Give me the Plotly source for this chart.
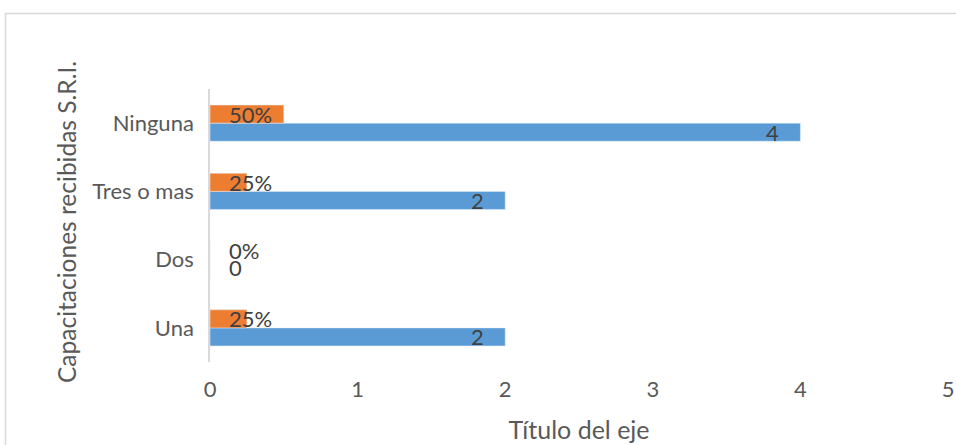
import plotly.graph_objects as go

categories = ["Una", "Dos", "Tres o mas", "Ninguna"]
counts = [2, 0, 2, 4]
shares = [0.25, 0.0, 0.25, 0.5]
share_labels = ["25%", "0%", "25%", "50%"]
x_ticks = [0, 1, 2, 3, 4, 5]

FONT = "Lato"
TXT = "#404040"
AX = "#595959"

L, R, T, B = 210, 8, 89, 83
W, H = 956, 445
pw = W - L - R
ph = H - T - B

fig = go.Figure()
fig.add_trace(go.Bar(
    y=categories, x=counts, orientation="h", marker_color="#5B9BD5",
    name="Frecuencia",
))
fig.add_trace(go.Bar(
    y=categories, x=shares, orientation="h", marker_color="#ED7D31",
    name="Porcentaje",
))

# count labels near the bar end (inside)
for c, v in zip(categories, counts):
    if v:
        fig.add_annotation(x=v, y=c, text=str(v), xref="x", yref="y", showarrow=False,
                           xanchor="right", xshift=-19, yshift=-9,
                           font=dict(family=FONT, size=22, color=TXT))
    else:
        fig.add_annotation(x=0, y=c, text="0", xref="x", yref="y", showarrow=False,
                           xanchor="left", xshift=17, yshift=-8,
                           font=dict(family=FONT, size=22, color=TXT))
# percentage labels
for c, s in zip(categories, share_labels):
    fig.add_annotation(x=0, y=c, text=s, xref="x", yref="y", showarrow=False,
                       xanchor="left", xshift=17, yshift=9,
                       font=dict(family=FONT, size=22, color=TXT))

# y-axis title
fig.add_annotation(text="Capacitaciones recibidas S.R.I.", xref="paper", yref="paper",
                   x=(66 - L) / pw, y=(H - B - 222) / ph, xanchor="center", yanchor="middle",
                   textangle=-90, showarrow=False, font=dict(family=FONT, size=24.5, color=AX))

fig.update_layout(
    width=W, height=H,
    margin=dict(l=L, r=R, t=T, b=B),
    paper_bgcolor="white", plot_bgcolor="white",
    barmode="group", bargap=0.47, bargroupgap=0,
    showlegend=False,
    font=dict(family=FONT, color=AX),
)
fig.update_xaxes(
    range=[0, 5], tickvals=x_ticks, showgrid=False, zeroline=False,
    showline=False, ticks="", tickfont=dict(size=22, color=AX), ticklabelstandoff=12,
    title=dict(text="Título del eje", font=dict(size=25, color=AX), standoff=20),
    automargin=False,
)
fig.update_yaxes(
    showgrid=False, zeroline=False, showline=True, linecolor="#D9D9D9", linewidth=1.5,
    ticks="", tickfont=dict(size=22, color=AX), ticklabelstandoff=10,
    automargin=False,
)

fig.add_shape(type="rect", xref="paper", yref="paper",
              x0=(5.5 - L) / pw, x1=1.2, y0=-0.6, y1=(H - B - 13.5) / ph,
              line=dict(color="#D9D9D9", width=1.5), fillcolor="rgba(0,0,0,0)", layer="below")

fig.write_html("out.html", post_script="document.body.style.margin='0';",
               config={"displayModeBar": False})
